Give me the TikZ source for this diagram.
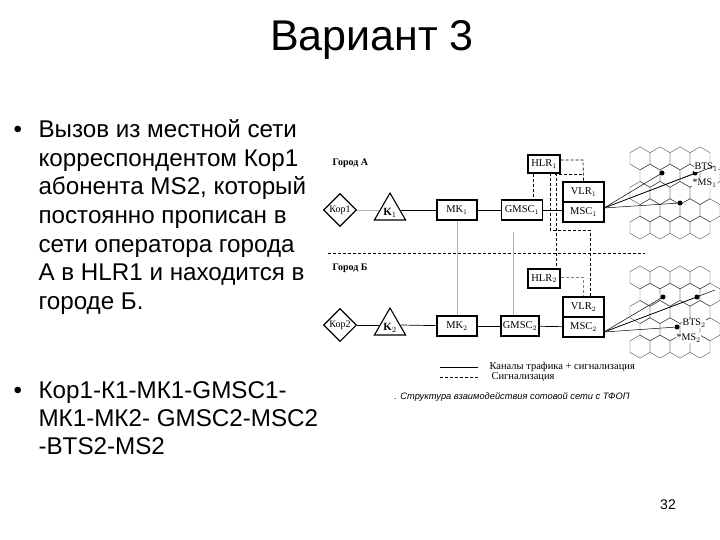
\documentclass[tikz,border=0pt]{standalone}
\usepackage{fontspec}
\setmainfont{Liberation Sans}
\newfontfamily\serifd{Liberation Serif}
\usetikzlibrary{shapes.geometric}
\begin{document}
\begin{tikzpicture}[x=1pt,y=-1pt,
  box/.style={draw,line width=1.1pt,minimum height=20pt,inner sep=1pt,font=\serifd\fontsize{10.5}{12}\selectfont},
  sig/.style={densely dashed,line width=0.7pt},
  gl/.style={draw=gray!60,line width=0.6pt},
  tr/.style={line width=0.7pt},
  bl/.style={anchor=base west,font=\fontsize{24.2}{28}\selectfont},
  hexa/.style={regular polygon,regular polygon sides=6,shape border rotate=30,draw=black!70,line width=0.4pt,minimum size=23pt,inner sep=0pt},
  dot/.style={circle,fill,inner sep=0pt,minimum size=5pt},
  sm/.style={font=\serifd\fontsize{10}{12}\selectfont},
  tri/.style={regular polygon,regular polygon sides=3,draw,line width=1.1pt,minimum size=36pt,inner sep=0pt},
  dia/.style={diamond,draw,line width=1.1pt,minimum size=33pt,inner sep=0pt,font=\serifd\fontsize{10}{11}\selectfont}]
\useasboundingbox (0,0) rectangle (720,540);
\node (title) at (372,40) {\fontsize{43}{48}\selectfont Вариант 3};
\node[bl] (b1) at (10,138) {•};
\node[bl] (l1) at (35,138) {Вызов из местной сети};
\node[bl] (l2) at (35,167) {корреспондентом Кор1};
\node[bl] (l3) at (35,195) {абонента MS2, который};
\node[bl] (l4) at (35,223) {постоянно прописан в};
\node[bl] (l5) at (35,252) {сети оператора города};
\node[bl] (l6) at (35,280) {А в HLR1 и находится в};
\node[bl] (l7) at (35,309) {городе Б.};
\node[bl] (b2) at (10,398) {•};
\node[bl] (m1) at (35,398) {Кор1-К1-МК1-GMSC1-};
\node[bl] (m2) at (35,426) {МК1-МК2- GMSC2-MSC2};
\node[bl] (m3) at (35,454) {-BTS2-MS2};
\node (pg) at (668,505) {\fontsize{14}{16}\selectfont 32};
% hexagons
\foreach \cy/\tag in {193/u,312/d}{
  \foreach \r in {-2,...,2}{
    \pgfmathsetmacro\off{mod(abs(\r),2)==1 ? 10 : 0}
    \foreach \c in {0,...,3}{
      \node[hexa] (h\tag\r\c) at ({640+\off+20*\c},{\cy+17.3*\r}) {};
    }}}
\node[dot] (d1) at (662,173) {};
\node[dot] (d2) at (695,173) {};
\node[dot] (d3) at (680,203) {};
\node[dot] (d4) at (663,297) {};
\node[dot] (d5) at (697,297) {};
\node[dot] (d6) at (677,327) {};
\node[sm,anchor=west,fill=white,inner sep=0.5pt] (bts1) at (694,167) {BTS$_1$};
\node[sm,anchor=west,fill=white,inner sep=0.5pt] (ms1) at (692,183) {*MS$_1$};
\node[sm,anchor=west,fill=white,inner sep=0.5pt] (bts2) at (682,323) {BTS$_2$};
\node[sm,anchor=west,fill=white,inner sep=0.5pt] (ms2) at (676,338) {*MS$_2$};
% labels
\node[font=\serifd\bfseries\fontsize{10}{11}\selectfont,anchor=west] (ga) at (329,163) {Город А};
\node[font=\serifd\bfseries\fontsize{10}{11}\selectfont,anchor=west] (gb) at (329,268) {Город Б};
\draw[sig,line width=0.5pt] (328,253) -- (645,253);
% nodes
\node[dia] (kop1) at (340,210) {Кор1};
\node[dia] (kop2) at (340,325) {Кор2};
\node[tri] (k1) at (390,211) {};
\node[font=\serifd\bfseries\fontsize{11}{12}\selectfont] at (390,213) {K$_1$};
\node[tri] (k2) at (390,326) {};
\node[font=\serifd\bfseries\fontsize{11}{12}\selectfont] at (390,328) {K$_2$};
\node[box,minimum width=40pt] (mk1) at (457,210) {MK$_1$};
\node[box,minimum width=40pt] (mk2) at (457,326) {MK$_2$};
\node[box,minimum width=41pt] (gmsc1) at (522,210) {GMSC$_1$};
\node[box,minimum width=38pt] (gmsc2) at (520,326) {GMSC$_2$};
\node[box,minimum width=41pt] (vlr1) at (583.5,192) {VLR$_1$};
\node[box,minimum width=41pt] (msc1) at (583.5,212) {MSC$_1$};
\node[box,minimum width=41pt] (vlr2) at (583.5,307) {VLR$_2$};
\node[box,minimum width=41pt] (msc2) at (583.5,327) {MSC$_2$};
\node[box,minimum width=32pt,minimum height=18pt] (hlr1) at (544,164) {HLR$_1$};
\node[box,minimum width=32pt,minimum height=19pt] (hlr2) at (544,278.5) {HLR$_2$};
% traffic
\draw[gl] (kop1) -- (k1.west|-kop1);
\draw[tr] (k1.east|-0,210) -- (mk1);
\draw[tr] (mk1) -- (gmsc1);
\draw[tr] (gmsc1) -- (msc1.west|-gmsc1);
\draw[tr] (kop2) -- (k2.west|-kop2);
\draw[tr] (k2.east|-0,325) -- (mk2);
\draw[tr] (mk2) -- (gmsc2);
\draw[tr] (gmsc2) -- (msc2);
\draw[gl] (mk1) -- (mk2);
\coordinate (g2top) at (513,232);
\draw[gl] (g2top) -- (g2top|-gmsc2.north);
\coordinate (m1r) at (604,208);
\coordinate (m2r) at (604,332);
\foreach \d in {d1,d2,d3}{\draw[tr,line width=0.5pt] (m1r) -- (\d);}
\foreach \d in {d4,d5,d6}{\draw[tr,line width=0.5pt] (m2r) -- (\d);}
\draw[tr,line width=0.5pt] (m1r) -- (715,166);
\draw[tr,line width=0.5pt] (m2r) -- (715,290);
% signalling
\draw[sig] (hlr1.south-|533,0) -- (gmsc1.north-|533,0);
\draw[sig] (hlr1.east|-0,160) -- (583,160) -- (vlr1.north);
\draw[sig] (555,173) -- (555,174) -- (583,174);
\draw[sig] (550,173) -- (550,230) -- (590,230) -- (vlr2.north-|590,0);
\draw[sig] (556,173) -- (hlr2.north-|556,0);
\draw[sig,draw=gray] (hlr2.east|-0,277) -- (583,277) -- (vlr2.north-|583,0);
% legend
\coordinate (la) at (440,367); \coordinate (lb) at (478,367);
\draw[tr] (la) -- (lb);
\coordinate (lc) at (440,377); \coordinate (ld) at (478,377);
\draw[sig,line width=0.5pt] (lc) -- (ld);
\node[font=\serifd\fontsize{10.5}{11}\selectfont,anchor=west] (t1) at (486,367) {Каналы трафика + сигнализация};
\node[font=\serifd\fontsize{10.5}{11}\selectfont,anchor=west] (t2) at (488,377) {Сигнализация};
\node[font=\itshape\fontsize{9.3}{10}\selectfont] (cap) at (512,397) {. Структура взаимодействия сотовой сети с ТФОП};
\end{tikzpicture}
\end{document}
